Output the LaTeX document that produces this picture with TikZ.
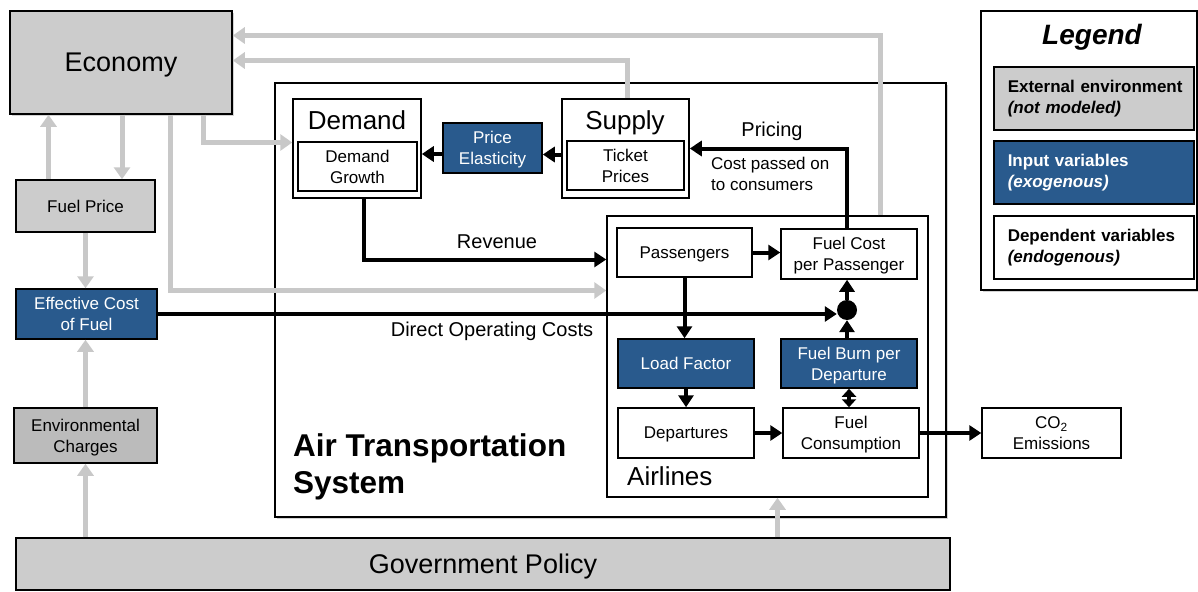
\documentclass[tikz,border=0pt]{standalone}
\usepackage{fontspec}
\setmainfont{Liberation Sans}
\usetikzlibrary{arrows.meta,shadows}

\definecolor{extgray}{HTML}{CCCCCC}
\definecolor{envgray}{HTML}{BBBBBB}
\definecolor{inblue}{HTML}{295A8D}
\definecolor{flowgray}{HTML}{C8C8C8}

\newcommand{\fsz}[2]{\fontsize{#1}{#2}\selectfont}

\tikzset{
  sz/.style 2 args={minimum width=#1pt, minimum height=#2pt},
  box/.style={draw, line width=1.5pt, inner sep=0pt, text depth=0pt, align=center, font=\fsz{17}{21}},
  extbox/.style={box, fill=extgray},
  inbox/.style={box, fill=inblue, text=white},
  depbox/.style={box, fill=white},
  shade/.style={drop shadow={shadow xshift=2pt, shadow yshift=-2pt, opacity=0.35}},
  lbl/.style={inner sep=0pt, font=\fsz{20}{24}},
  lgbox/.style={anchor=west, sz={200}{63}, inner xsep=14pt, text width=172pt, text depth=, align=left, font=\bfseries\fsz{17}{21}},
  flow/.style={line width=4pt, -{Triangle[length=12pt,width=15pt]}},
  feed/.style={line width=5pt, draw=flowgray, -{Triangle[length=12pt,width=16pt]}},
}

\begin{document}
\begin{tikzpicture}[x=1pt,y=-1pt]
\useasboundingbox (0,0) rectangle (1198,591);

\node[depbox, shade, sz={671}{434}] (ats) at (610.5,300) {};
\node[font=\bfseries\fsz{31.5}{37}, align=left, anchor=west, inner sep=0pt] (atslbl) at (293,467) {Air Transportation\\System};

\node[extbox, shade, sz={222}{103}, font=\fsz{27}{30}] (economy) at (121,62.5) {Economy};
\node[extbox, sz={139}{52}] (fuelprice) at (85.5,206) {Fuel Price};
\node[inbox, sz={141}{50}] (effcost) at (86.5,314) {Effective Cost\\of Fuel};
\node[box, fill=envgray, sz={143}{55}] (envcharges) at (85.5,435.5) {Environmental\\Charges};
\node[extbox, sz={934}{52}, font=\fsz{27}{30}] (govpolicy) at (483,564) {Government Policy};

% legend
\node[depbox, shade, sz={216}{279}] (legend) at (1089,150.5) {};
\node[font=\bfseries\itshape\fsz{28}{30}, inner sep=0pt] (lgtitle) at (1092,37) {Legend};
\node[extbox, lgbox] (lgext) at (993,98.5) {\mbox{External environment}\\\textit{(not modeled)}};
\node[inbox, lgbox] (lgin) at (993,172.5) {Input variables\\\textit{(exogenous)}};
\node[depbox, lgbox] (lgdep) at (993,247.5) {\mbox{Dependent variables}\\\textit{(endogenous)}};

% demand and supply
\node[depbox, sz={128}{99}] (demand) at (357,148.5) {};
\node[lbl, font=\fsz{26}{30}, anchor=base] (demandlbl) at (357,129) {Demand};
\node[depbox, sz={119}{49}] (demandgrowth) at (357.5,166.5) {Demand\\Growth};
\node[inbox, sz={99}{50}] (elasticity) at (492.5,148) {Price\\Elasticity};
\node[depbox, sz={127}{99}] (supply) at (625.5,148.5) {};
\node[lbl, font=\fsz{26}{30}, anchor=base] (supplylbl) at (625,129) {Supply};
\node[depbox, sz={117}{49}] (ticketprices) at (625.5,165.5) {Ticket\\Prices};

% airlines
\node[box, sz={321}{281}] (airlines) at (767.5,356.5) {};
\node[lbl, font=\fsz{26}{30}, anchor=base west] (airlbl) at (627,485) {Airlines};

% external links
\draw[feed] ([xshift=113pt]airlines.north) |- ([yshift=27pt]economy.east);
\draw[feed] ([xshift=2pt]supply.north) |- ([yshift=2pt]economy.east);
\draw[feed] ([xshift=82pt]economy.south) |- ([yshift=6pt]demand.west);
\draw[feed] ([xshift=49pt]economy.south) |- ([yshift=66pt]airlines.west);
\draw[feed] ([xshift=-37pt]fuelprice.north) -- ([xshift=-37pt]fuelprice.north |- economy.south);
\draw[feed] ([xshift=1pt]economy.south) -- ([xshift=1pt]economy.south |- fuelprice.north);
\draw[feed] (fuelprice.south) -- (fuelprice.south |- effcost.north);
\draw[feed] (envcharges.north) -- (envcharges.north |- effcost.south);
\draw[feed] (envcharges.south |- govpolicy.north) -- (envcharges.south);
\draw[feed] ([xshift=10pt]airlines.south |- govpolicy.north) -- ([xshift=10pt]airlines.south);

\node[depbox, sz={135}{49}] (passengers) at (684.5,252.5) {Passengers};
\node[depbox, sz={136}{50}] (fuelcostpp) at (849,254) {Fuel Cost\\per Passenger};
\node[circle, fill=black, inner sep=0pt, minimum size=20pt] (dot) at (847,310) {};
\node[inbox, sz={136}{49}] (loadfactor) at (686,363.5) {Load Factor};
\node[inbox, sz={136}{49}] (fuelburn) at (849,363.5) {Fuel Burn per\\Departure};
\node[depbox, sz={136}{50}] (departures) at (686,433) {Departures};
\node[depbox, sz={136}{50}] (fuelcons) at (851,433) {Fuel\\Consumption};
\node[depbox, sz={139}{50}] (co2) at (1051.5,433) {CO\textsubscript{2}\\Emissions};

\draw[flow] ([yshift=-6pt]supply.west) -- ([yshift=-6pt]supply.west -| elasticity.east);
\draw[flow] ([yshift=-6pt]elasticity.west) -- ([yshift=-6pt]elasticity.west -| demand.east);
\draw[flow] ([xshift=7pt]demand.south) |- ([yshift=97pt]airlines.west);
\node[lbl] (revenue) at (497,242) {Revenue};
\draw[flow] ([xshift=-2pt]fuelcostpp.north) |- (supply.east);
\node[lbl] (pricing) at (772,131) {Pricing};
\node[lbl, font=\fsz{17}{21}, align=left, anchor=west] (passon) at (711,174) {Cost passed on\\to consumers};
\draw[flow] (effcost.east) -- (effcost.east -| dot.west);
\node[lbl] (doc) at (492,331) {Direct Operating Costs};

\draw[flow] (passengers.east) -- (passengers.east -| fuelcostpp.west);
\draw[flow] (passengers.south) -- (passengers.south |- loadfactor.north);
\draw[flow] ([xshift=-2pt]fuelburn.north) -- (dot.south);
\draw[flow] (dot.north) -- ([xshift=-2pt]fuelcostpp.south);
\draw[flow] (loadfactor.south) -- (departures.north);
\draw[line width=4pt, {Triangle[length=8pt,width=14pt]}-{Triangle[length=8pt,width=14pt]}] (fuelburn.south) -- (fuelburn.south |- fuelcons.north);
\draw[flow] (departures.east) -- (fuelcons.west);
\draw[flow] (fuelcons.east) -- (co2.west);

\end{tikzpicture}
\end{document}
